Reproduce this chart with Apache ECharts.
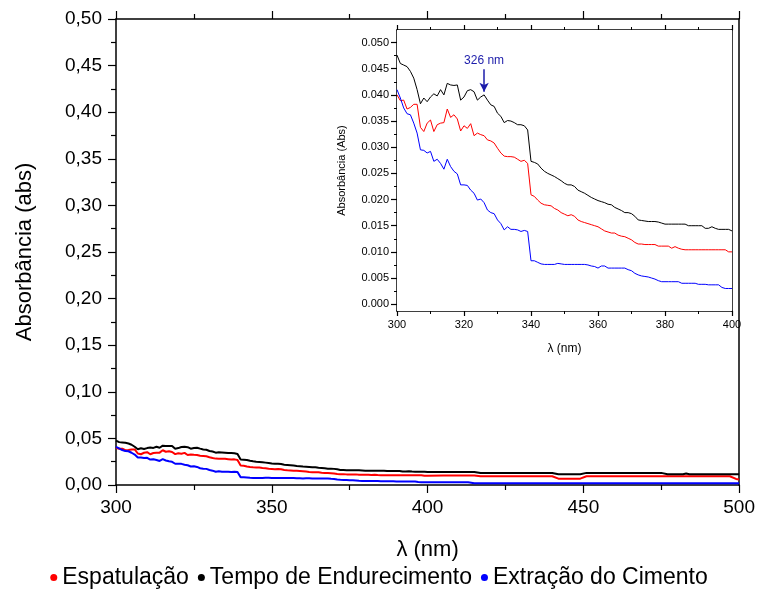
<!DOCTYPE html>
<html>
<head>
<meta charset="utf-8">
<script src="https://cdn.jsdelivr.net/npm/echarts@6.0.0/dist/echarts.min.js"></script>
<style>
html,body{margin:0;padding:0;background:#fff;}
#c{width:758px;height:590px;}
</style>
</head>
<body>
<div id="c"></div>
<script>
// wavelengths 300..400 nm (1 nm step), shared by inset and main
const wl = [];
for (let w = 300; w <= 400; w++) wl.push(w);
// extension points for main chart 400..500 nm
const wlExt = [405, 410, 413, 415, 417, 420, 430, 440, 442, 445, 449, 451, 455, 460, 470, 475, 477, 480, 482, 483, 484, 490, 495, 497, 499, 500];

const tempo = [
 .0476,.0460,.0457,.0454,.0445,.0432,.0410,.0383,.0394,.0387,
 .0396,.0402,.0398,.0410,.0400,.0422,.0419,.0418,.0419,.0390,
 .0396,.0408,.0410,.0406,.0390,.0396,.0400,.0390,.0381,.0378,
 .0365,.0359,.0347,.0351,.0350,.0347,.0343,.0343,.0341,.0333,
 .0273,.0271,.0268,.0260,.0254,.0250,.0247,.0244,.0240,.0236,
 .0231,.0228,.0228,.0225,.0218,.0215,.0212,.0208,.0204,.0201,
 .0198,.0196,.0194,.0191,.0190,.0185,.0182,.0179,.0175,.0175,
 .0173,.0168,.0161,.0160,.0159,.0158,.0158,.0158,.0157,.0155,
 .0153,.0153,.0153,.0153,.0153,.0153,.0153,.0150,.0150,.0150,
 .0150,.0150,.0145,.0145,.0148,.0145,.0143,.0143,.0143,.0143,
 .0140];
const tempoExt = [.0140,.0140,.0140,.0140,.0128,.0128,.0128,.0128,.0115,.0115,.0115,.0130,.0130,.0130,.0130,.0130,.0115,.0115,.0115,.0123,.0115,.0115,.0115,.0115,.0115,.0115];

const espat = [
 .0400,.0389,.0390,.0373,.0376,.0382,.0382,.0338,.0330,.0346,
 .0352,.0330,.0343,.0346,.0347,.0373,.0357,.0362,.0354,.0331,
 .0341,.0336,.0345,.0322,.0327,.0324,.0322,.0314,.0312,.0308,
 .0298,.0289,.0283,.0282,.0282,.0281,.0277,.0273,.0275,.0269,
 .0209,.0206,.0199,.0193,.0190,.0189,.0188,.0183,.0180,.0175,
 .0172,.0169,.0171,.0168,.0161,.0158,.0156,.0154,.0152,.0150,
 .0148,.0144,.0140,.0138,.0136,.0136,.0132,.0130,.0129,.0126,
 .0123,.0118,.0115,.0115,.0114,.0114,.0114,.0114,.0111,.0111,
 .0111,.0111,.0107,.0110,.0107,.0105,.0104,.0104,.0104,.0104,
 .0104,.0104,.0104,.0104,.0104,.0104,.0104,.0104,.0104,.0100,
 .0100];
const espatExt = [.0102,.0102,.0102,.0102,.0094,.0094,.0094,.0094,.0068,.0068,.0068,.0094,.0094,.0094,.0094,.0094,.0094,.0094,.0094,.0094,.0094,.0094,.0094,.0094,.0065,.0060];

const extr = [
 .0410,.0394,.0375,.0364,.0362,.0346,.0327,.0295,.0294,.0289,
 .0292,.0273,.0277,.0269,.0258,.0277,.0263,.0254,.0249,.0228,
 .0228,.0227,.0218,.0212,.0199,.0201,.0194,.0180,.0175,.0173,
 .0161,.0154,.0142,.0148,.0143,.0143,.0142,.0139,.0141,.0139,
 .0083,.0083,.0080,.0077,.0076,.0076,.0076,.0076,.0078,.0077,
 .0076,.0076,.0076,.0076,.0076,.0076,.0076,.0075,.0073,.0072,
 .0069,.0073,.0073,.0069,.0069,.0069,.0069,.0069,.0069,.0066,
 .0064,.0059,.0056,.0054,.0053,.0052,.0050,.0048,.0045,.0043,
 .0043,.0043,.0043,.0043,.0043,.0040,.0040,.0040,.0040,.0040,
 .0038,.0038,.0038,.0037,.0037,.0037,.0037,.0032,.0030,.0030,
 .0030];
const extrExt = [.0030,.0030,.0030,.0018,.0018,.0018,.0018,.0018,.0018,.0018,.0018,.0018,.0018,.0018,.0018,.0018,.0018,.0018,.0018,.0018,.0018,.0018,.0018,.0018,.0018,.0018];

const seriesNames = ['Espatulação', 'Tempo de Endurecimento', 'Extração do Cimento'];
const seriesColors = ['#ff0000', '#000000', '#0000ff'];

const insetYTicks = [0, 0.005, 0.010, 0.015, 0.020, 0.025, 0.030, 0.035, 0.040, 0.045, 0.050];
const insetYMinor = [0.0025, 0.0075, 0.0125, 0.0175, 0.0225, 0.0275, 0.0325, 0.0375, 0.0425, 0.0475];
const peakWl = 326;
const peakArrow = [0.0449, 0.0406];

function pairs(xs, ys) { return xs.map((x, i) => [x, ys[i]]); }
const mainX = wl.concat(wlExt);
const mainData = [espat.concat(espatExt), tempo.concat(tempoExt), extr.concat(extrExt)];
const insetData = [espat, tempo, extr];

const FONT = 'Liberation Sans, Arial, sans-serif';
const axisLineStyle = {color: '#000', width: 1.5};

const chart = echarts.init(document.getElementById('c'), null, {renderer: 'canvas'});

const mainXBase = {
  gridIndex: 0, type: 'value', min: 300, max: 500, interval: 50,
  axisLine: {show: true, onZero: false, lineStyle: axisLineStyle},
  axisTick: {show: true, inside: false, length: 8, lineStyle: {color: '#000', width: 1.2}},
  minorTick: {show: true, splitNumber: 2, length: 5, lineStyle: {color: '#000', width: 1.2}},
  splitLine: {show: false}, minorSplitLine: {show: false}
};
const insetXBase = {
  gridIndex: 1, type: 'value', min: 300, max: 400, interval: 20,
  axisLine: {show: true, onZero: false, lineStyle: axisLineStyle},
  axisTick: {show: true, inside: false, length: 5, lineStyle: {color: '#000', width: 1.2}},
  minorTick: {show: true, splitNumber: 2, length: 3, lineStyle: {color: '#000', width: 1}},
  splitLine: {show: false}, minorSplitLine: {show: false}
};

const series = [];
seriesNames.forEach((n, i) => {
  series.push({
    name: n, type: 'line', xAxisIndex: 0, yAxisIndex: 0,
    data: pairs(mainX, mainData[i]), showSymbol: false, symbol: 'circle',
    lineStyle: {color: seriesColors[i], width: 2}, itemStyle: {color: seriesColors[i]},
    animation: false
  });
});
seriesNames.forEach((n, i) => {
  const s = {
    name: n, type: 'line', xAxisIndex: 2, yAxisIndex: 2, z: 8,
    data: pairs(wl, insetData[i]), showSymbol: false, symbol: 'circle',
    lineStyle: {color: seriesColors[i], width: 1}, itemStyle: {color: seriesColors[i]},
    animation: false
  };
  if (i === 1) {
    s.markLine = {
      silent: true, animation: false, z: 9,
      symbol: ['none', 'arrow'], symbolSize: [7, 9],
      lineStyle: {color: '#1c1caa', width: 1.5, type: 'solid'},
      label: {show: true, position: 'start', formatter: peakWl + ' nm', color: '#1c1caa', fontSize: 12, fontFamily: FONT, distance: 3},
      data: [[{coord: [peakWl, peakArrow[0]]}, {coord: [peakWl, peakArrow[1]]}]]
    };
  }
  series.push(s);
});

const option = {
  backgroundColor: '#fff',
  animation: false,
  textStyle: {fontFamily: FONT},
  legend: {
    data: seriesNames.map((n, i) => ({name: n, itemStyle: {color: seriesColors[i]}})),
    left: 'center', top: 561, icon: 'circle', itemWidth: 7, itemHeight: 7, itemGap: 9,
    textStyle: {fontSize: 23, color: '#000', fontFamily: FONT}
  },
  grid: [
    {left: 116, right: 15, top: 19, bottom: 105, containLabel: false},
    {left: 397, right: 26, top: 30, bottom: 279, containLabel: false, show: true, backgroundColor: '#fff', borderWidth: 0, z: 1}
  ],
  xAxis: [
    Object.assign({}, mainXBase, {
      position: 'bottom',
      axisLabel: {show: true, fontSize: 19, color: '#000', margin: 13, fontFamily: FONT},
      name: 'λ (nm)', nameLocation: 'middle', nameGap: 54,
      nameTextStyle: {fontSize: 22, color: '#000', fontFamily: FONT}
    }),
    Object.assign({}, mainXBase, {position: 'top', axisLabel: {show: false}}),
    Object.assign({}, insetXBase, {
      position: 'bottom',
      axisLabel: {show: true, fontSize: 11, color: '#000', margin: 8, fontFamily: FONT},
      name: 'λ (nm)', nameLocation: 'middle', nameGap: 32,
      nameTextStyle: {fontSize: 12, color: '#000', fontFamily: FONT}
    }),
    Object.assign({}, insetXBase, {position: 'top', axisLabel: {show: false}})
  ],
  yAxis: [
    {
      gridIndex: 0, type: 'value', min: 0, max: 0.5, interval: 0.05, position: 'left',
      axisLine: {show: true, onZero: false, lineStyle: axisLineStyle},
      axisTick: {show: true, inside: false, length: 8, lineStyle: {color: '#000', width: 1.2}},
      minorTick: {show: true, splitNumber: 2, length: 5, lineStyle: {color: '#000', width: 1.2}},
      splitLine: {show: false},
      axisLabel: {show: true, fontSize: 19, color: '#000', margin: 14, fontFamily: FONT,
        formatter: v => v.toFixed(2).replace('.', ',')},
      name: 'Absorbância (abs)', nameLocation: 'middle', nameGap: 80,
      nameTextStyle: {fontSize: 22, color: '#000', fontFamily: FONT}
    },
    {
      gridIndex: 0, type: 'value', min: 0, max: 0.5, position: 'right',
      axisLine: {show: true, onZero: false, lineStyle: axisLineStyle},
      axisTick: {show: false}, axisLabel: {show: false}, splitLine: {show: false}
    },
    {
      gridIndex: 1, type: 'value', min: -0.0013, max: 0.0524, position: 'left',
      axisLine: {show: true, onZero: false, lineStyle: axisLineStyle},
      axisTick: {show: true, inside: false, length: 6, customValues: insetYTicks, lineStyle: {color: '#000', width: 1.2}},
      axisLabel: {show: true, fontSize: 11, color: '#000', margin: 8, fontFamily: FONT,
        customValues: insetYTicks, formatter: v => v.toFixed(3)},
      splitLine: {show: false},
      name: 'Absorbância (Abs)', nameLocation: 'middle', nameGap: 50,
      nameTextStyle: {fontSize: 11, color: '#000', fontFamily: FONT}
    },
    {
      gridIndex: 1, type: 'value', min: -0.0013, max: 0.0524, position: 'left',
      axisLine: {show: false},
      axisTick: {show: true, inside: false, length: 3, customValues: insetYMinor, lineStyle: {color: '#000', width: 1}},
      axisLabel: {show: false, customValues: insetYMinor}, splitLine: {show: false}
    },
    {
      gridIndex: 1, type: 'value', min: -0.0013, max: 0.0524, position: 'right',
      axisLine: {show: true, onZero: false, lineStyle: axisLineStyle},
      axisTick: {show: false}, axisLabel: {show: false}, splitLine: {show: false}
    }
  ],
  series: series
};
chart.setOption(option);
</script>
</body>
</html>
